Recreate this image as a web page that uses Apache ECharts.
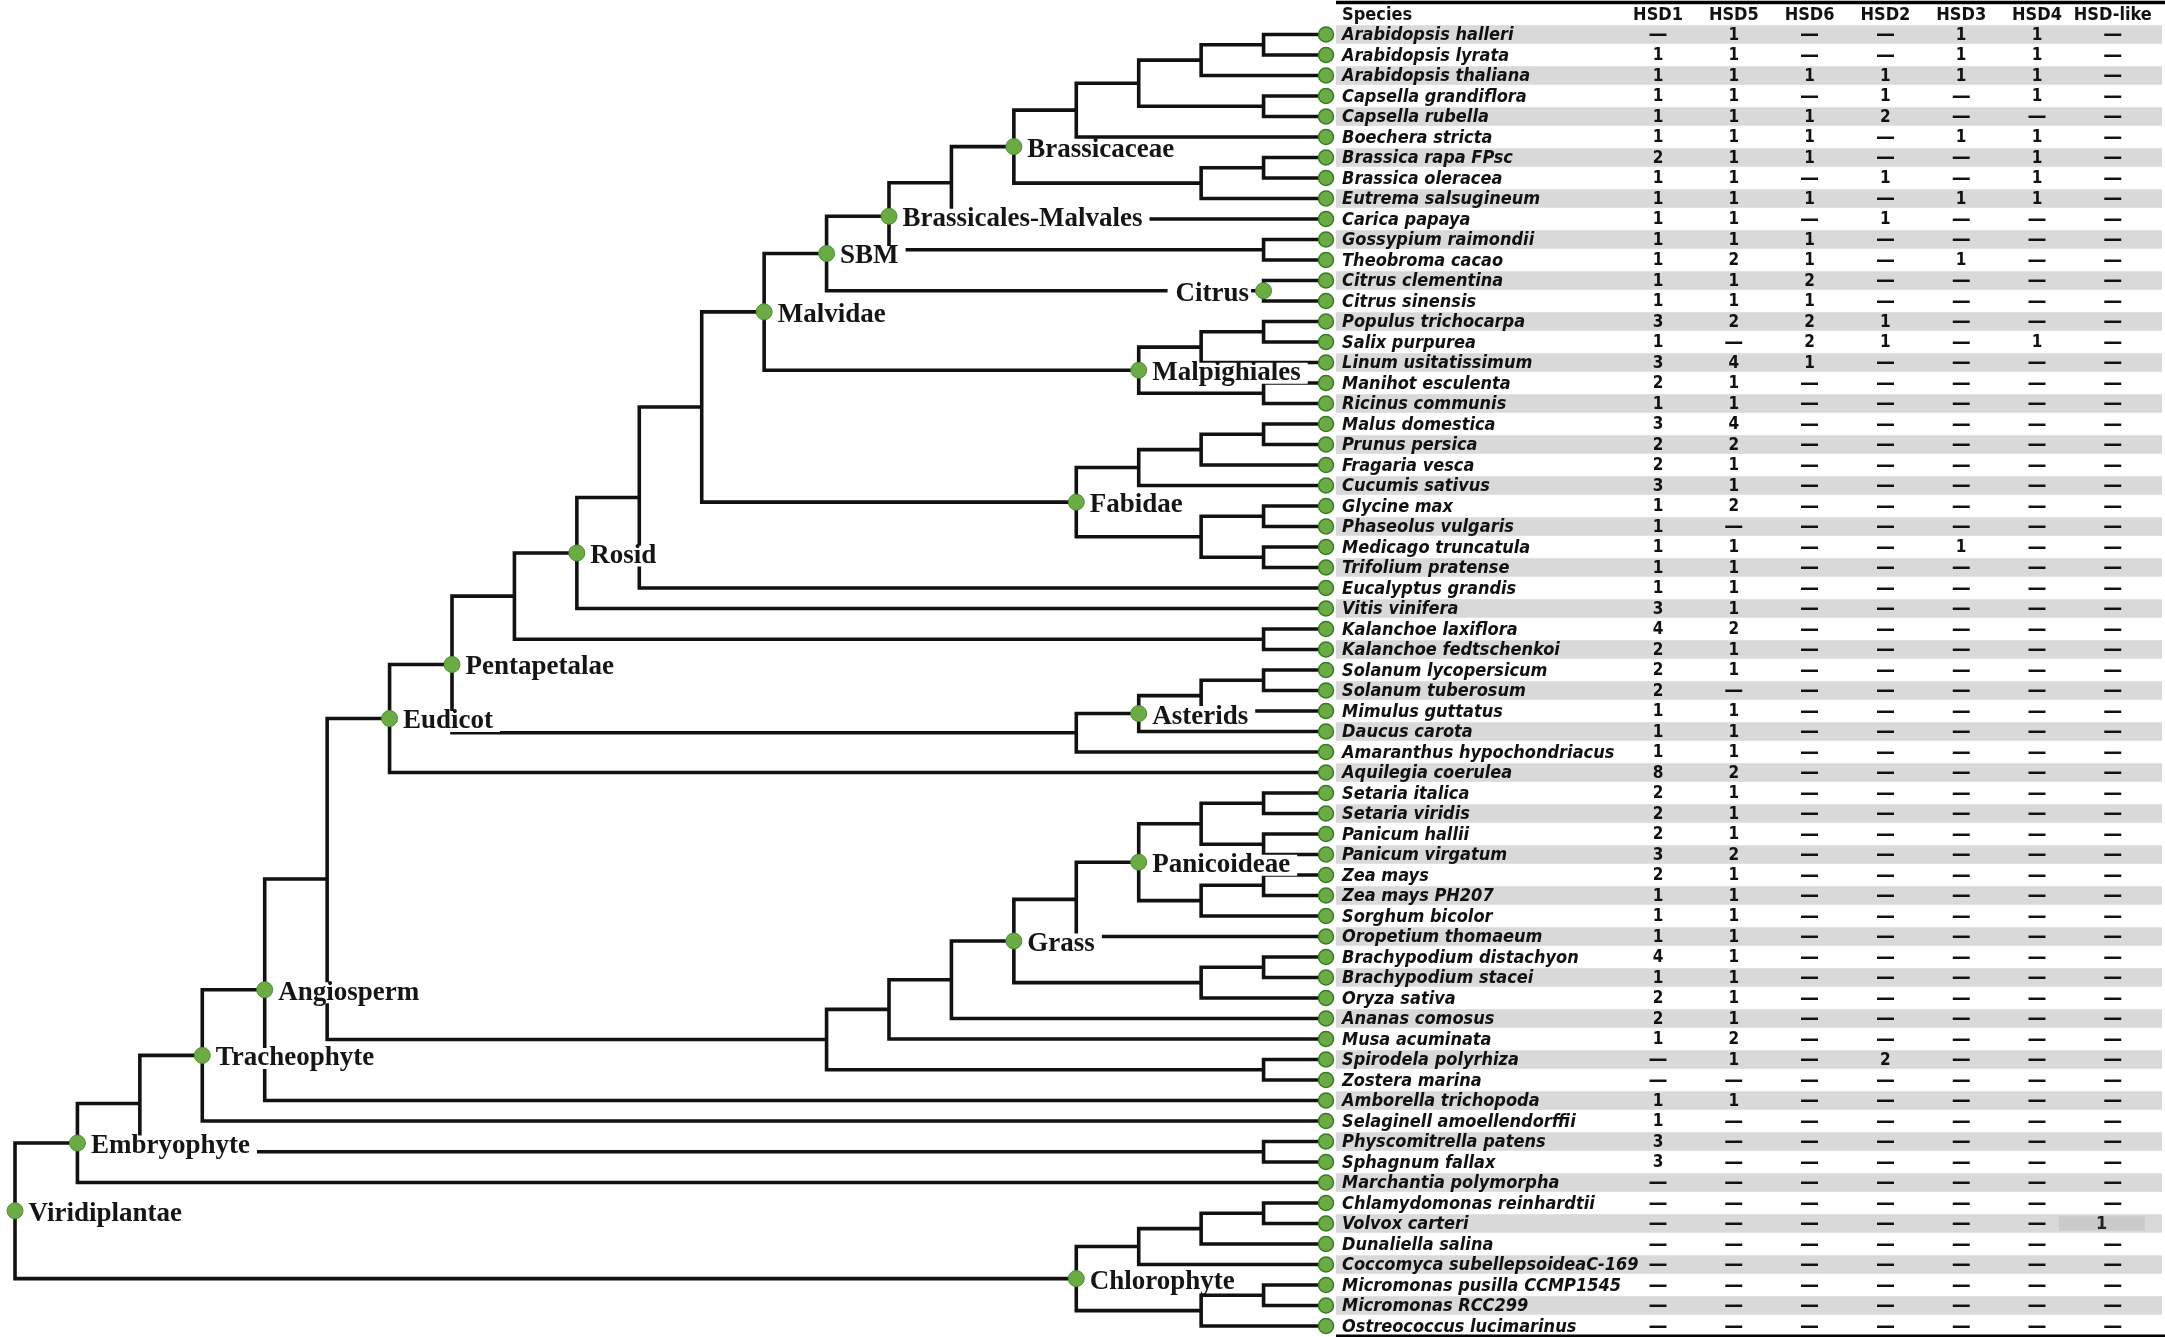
<!DOCTYPE html>
<html>
<head>
<meta charset="utf-8">
<script src="https://cdn.jsdelivr.net/npm/echarts@6/dist/echarts.min.js"></script>
<style>
  html, body { margin: 0; padding: 0; background: #fff; }
  #chart { width: 2165px; height: 1337px; }
</style>
</head>
<body>
<div id="chart"></div>
<script>
const _ = null; // shown as a dash in the table

const species = [
  'Arabidopsis halleri', 'Arabidopsis lyrata', 'Arabidopsis thaliana', 'Capsella grandiflora',
  'Capsella rubella', 'Boechera stricta', 'Brassica rapa FPsc', 'Brassica oleracea',
  'Eutrema salsugineum', 'Carica papaya', 'Gossypium raimondii', 'Theobroma cacao',
  'Citrus clementina', 'Citrus sinensis', 'Populus trichocarpa', 'Salix purpurea',
  'Linum usitatissimum', 'Manihot esculenta', 'Ricinus communis', 'Malus domestica',
  'Prunus persica', 'Fragaria vesca', 'Cucumis sativus', 'Glycine max',
  'Phaseolus vulgaris', 'Medicago truncatula', 'Trifolium pratense', 'Eucalyptus grandis',
  'Vitis vinifera', 'Kalanchoe laxiflora', 'Kalanchoe fedtschenkoi', 'Solanum lycopersicum',
  'Solanum tuberosum', 'Mimulus guttatus', 'Daucus carota', 'Amaranthus hypochondriacus',
  'Aquilegia coerulea', 'Setaria italica', 'Setaria viridis', 'Panicum hallii',
  'Panicum virgatum', 'Zea mays', 'Zea mays PH207', 'Sorghum bicolor',
  'Oropetium thomaeum', 'Brachypodium distachyon', 'Brachypodium stacei', 'Oryza sativa',
  'Ananas comosus', 'Musa acuminata', 'Spirodela polyrhiza', 'Zostera marina',
  'Amborella trichopoda', 'Selaginell amoellendorffii', 'Physcomitrella patens', 'Sphagnum fallax',
  'Marchantia polymorpha', 'Chlamydomonas reinhardtii', 'Volvox carteri', 'Dunaliella salina',
  'Coccomyca subellepsoideaC-169', 'Micromonas pusilla CCMP1545', 'Micromonas RCC299', 'Ostreococcus lucimarinus'
];

const columns = ['HSD1', 'HSD5', 'HSD6', 'HSD2', 'HSD3', 'HSD4', 'HSD-like'];

const hsd1 = [
  _, 1, 1, 1, 1, 1, 2, 1, 1, 1,
  1, 1, 1, 1, 3, 1, 3, 2, 1, 3,
  2, 2, 3, 1, 1, 1, 1, 1, 3, 4,
  2, 2, 2, 1, 1, 1, 8, 2, 2, 2,
  3, 2, 1, 1, 1, 4, 1, 2, 2, 1,
  _, _, 1, 1, 3, 3, _, _, _, _,
  _, _, _, _
];
const hsd5 = [
  1, 1, 1, 1, 1, 1, 1, 1, 1, 1,
  1, 2, 1, 1, 2, _, 4, 1, 1, 4,
  2, 1, 1, 2, _, 1, 1, 1, 1, 2,
  1, 1, _, 1, 1, 1, 2, 1, 1, 1,
  2, 1, 1, 1, 1, 1, 1, 1, 1, 2,
  1, _, 1, _, _, _, _, _, _, _,
  _, _, _, _
];
const hsd6 = [
  _, _, 1, _, 1, 1, 1, _, 1, _,
  1, 1, 2, 1, 2, 2, 1, _, _, _,
  _, _, _, _, _, _, _, _, _, _,
  _, _, _, _, _, _, _, _, _, _,
  _, _, _, _, _, _, _, _, _, _,
  _, _, _, _, _, _, _, _, _, _,
  _, _, _, _
];
const hsd2 = [
  _, _, 1, 1, 2, _, _, 1, _, 1,
  _, _, _, _, 1, 1, _, _, _, _,
  _, _, _, _, _, _, _, _, _, _,
  _, _, _, _, _, _, _, _, _, _,
  _, _, _, _, _, _, _, _, _, _,
  2, _, _, _, _, _, _, _, _, _,
  _, _, _, _
];
const hsd3 = [
  1, 1, 1, _, _, 1, _, _, 1, _,
  _, 1, _, _, _, _, _, _, _, _,
  _, _, _, _, _, 1, _, _, _, _,
  _, _, _, _, _, _, _, _, _, _,
  _, _, _, _, _, _, _, _, _, _,
  _, _, _, _, _, _, _, _, _, _,
  _, _, _, _
];
const hsd4 = [
  1, 1, 1, 1, _, 1, 1, 1, 1, _,
  _, _, _, _, _, 1, _, _, _, _,
  _, _, _, _, _, _, _, _, _, _,
  _, _, _, _, _, _, _, _, _, _,
  _, _, _, _, _, _, _, _, _, _,
  _, _, _, _, _, _, _, _, _, _,
  _, _, _, _
];
const hsdLike = [
  _, _, _, _, _, _, _, _, _, _,
  _, _, _, _, _, _, _, _, _, _,
  _, _, _, _, _, _, _, _, _, _,
  _, _, _, _, _, _, _, _, _, _,
  _, _, _, _, _, _, _, _, _, _,
  _, _, _, _, _, _, _, _, 1, _,
  _, _, _, _
];
const highlighted = [[58, 6]]; // [row, column] cells with a grey box

// tree: [rank, clade label, child, child]; a number is a row of the table
const tree =
  [21, 'Viridiplantae',
    [20, 'Embryophyte',
      [19, '',
        [18, 'Tracheophyte',
          [17, 'Angiosperm',
            [16, '',
              [15, 'Eudicot',
                [14, 'Pentapetalae',
                  [13, '',
                    [12, 'Rosid',
                      [11, '',
                        [10, '',
                          [9, 'Malvidae',
                            [8, 'SBM',
                              [7, 'Brassicales-Malvales',
                                [6, '',
                                  [5, 'Brassicaceae',
                                    [4, '', [3, '', [2, '', [1, '', 0, 1], 2], [1, '', 3, 4]], 5],
                                    [2, '', [1, '', 6, 7], 8]],
                                  9],
                                [1, '', 10, 11]],
                              [1, 'Citrus', 12, 13]],
                            [3, 'Malpighiales', [2, '', [1, '', 14, 15], 16], [1, '', 17, 18]]],
                          [4, 'Fabidae',
                            [3, '', [2, '', [1, '', 19, 20], 21], 22],
                            [2, '', [1, '', 23, 24], [1, '', 25, 26]]]],
                        27],
                      28],
                    [1, '', 29, 30]],
                  [4, '', [3, 'Asterids', [2, '', [1, '', 31, 32], 33], 34], 35]],
                36],
              [8, '',
                [7, '',
                  [6, '',
                    [5, 'Grass',
                      [4, '',
                        [3, 'Panicoideae',
                          [2, '', [1, '', 37, 38], [1, '', 39, 40]],
                          [2, '', [1, '', 41, 42], 43]],
                        44],
                      [2, '', [1, '', 45, 46], 47]],
                    48],
                  49],
                [1, '', 50, 51]]],
            52],
          53],
        [1, '', 54, 55]],
      56],
    [4, 'Chlorophyte',
      [3, '', [2, '', [1, '', 57, 58], 59], 60],
      [2, '', [1, '', 61, 62], 63]]];

const leftLabels = ['Citrus'];

// ---- layout of the cladogram ----
const branches = [];
const clades = [];
function place(node) {
  if (typeof node === 'number') return { x: 0, y: node };
  const [rank, label, a, b] = node;
  const pa = place(a);
  const pb = place(b);
  const y = (pa.y + pb.y) / 2;
  branches.push([pa.x, pa.y, rank, pa.y, rank, pb.y, pb.x, pb.y]);
  if (label) clades.push({ name: label, value: [rank, y] });
  return { x: rank, y: y };
}
place(tree);

const sansFamily = '"Liberation Sans Narrow", "DejaVu Sans Condensed", "Liberation Sans", sans-serif';
const leafFont = 'italic bold 18px ' + sansFamily;
const cellFont = 'bold 17px ' + sansFamily;
const dashFont = 'bold 19px "DejaVu Sans", sans-serif';

// table cells
const colData = [hsd1, hsd5, hsd6, hsd2, hsd3, hsd4, hsdLike];
const cells = [];
colData.forEach((col, c) => {
  col.forEach((v, r) => {
    const hl = highlighted.some(h => h[0] === r && h[1] === c);
    cells.push({ x: c + 0.5, y: r, text: v === null ? '—' : String(v), hl: hl });
  });
});

const headerRow = -0.95;
const tableMinX = -3.75;
const tableMaxX = 7.15;
const nameX = -3.67;

function textEl(pt, text, font, align, fill) {
  return {
    type: 'text',
    x: pt[0],
    y: pt[1],
    style: {
      text: text,
      font: font,
      fill: fill || '#111',
      align: align,
      verticalAlign: 'middle'
    }
  };
}

const chart = echarts.init(document.getElementById('chart'), null, { renderer: 'canvas' });

chart.setOption({
  animation: false,
  backgroundColor: '#fff',
  grid: [
    { left: 15, width: 1311, top: 24.25, height: 1312 },
    { left: 1336, width: 826, top: 24.25, height: 1312 }
  ],
  xAxis: [
    { gridIndex: 0, type: 'value', min: 0, max: 21, inverse: true, show: false },
    { gridIndex: 1, type: 'value', min: tableMinX, max: tableMaxX, show: false }
  ],
  yAxis: [
    { gridIndex: 0, type: 'value', min: -0.5, max: 63.5, inverse: true, show: false },
    { gridIndex: 1, type: 'value', min: -0.5, max: 63.5, inverse: true, show: false }
  ],
  series: [
    {
      // alternating row shading
      type: 'custom',
      xAxisIndex: 1,
      yAxisIndex: 1,
      z: 1,
      data: species.map((s, i) => [0, i]).filter(d => d[1] % 2 === 0),
      renderItem: function (params, api) {
        const r = api.value(1);
        const p0 = api.coord([tableMinX, r - 0.5]);
        const p1 = api.coord([tableMaxX, r + 0.5]);
        return {
          type: 'rect',
          shape: { x: p0[0], y: p0[1] + 1, width: p1[0] - p0[0], height: p1[1] - p0[1] - 2 },
          style: { fill: '#d9d9d9' }
        };
      }
    },
    {
      // header and the two rules
      type: 'custom',
      xAxisIndex: 1,
      yAxisIndex: 1,
      z: 2,
      data: [[0, headerRow]],
      renderItem: function (params, api) {
        const kids = [];
        const font = 'bold 18px ' + sansFamily;
        kids.push(textEl(api.coord([nameX, headerRow]), 'Species', font, 'left'));
        columns.forEach((c, i) => {
          kids.push(textEl(api.coord([i + 0.5, headerRow]), c, font, 'center'));
        });
        [-1.56, 63.5].forEach(yv => {
          const a = api.coord([tableMinX, yv]);
          const b = api.coord([tableMaxX, yv]);
          kids.push({
            type: 'line',
            shape: { x1: a[0], y1: a[1], x2: b[0] + 3, y2: b[1] },
            style: { stroke: '#000', lineWidth: 3.5 }
          });
        });
        return { type: 'group', children: kids };
      }
    },
    {
      // species names
      type: 'custom',
      xAxisIndex: 1,
      yAxisIndex: 1,
      z: 3,
      data: species.map((s, i) => [nameX, i]),
      renderItem: function (params, api) {
        const pt = api.coord([api.value(0), api.value(1)]);
        return textEl([pt[0], pt[1] + 1], species[params.dataIndex], leafFont, 'left');
      }
    },
    {
      // gene counts
      type: 'custom',
      xAxisIndex: 1,
      yAxisIndex: 1,
      z: 3,
      data: cells.map(c => [c.x, c.y]),
      renderItem: function (params, api) {
        const cell = cells[params.dataIndex];
        const pt = api.coord([api.value(0), api.value(1)]);
        const h = api.size([1, 1]);
        const kids = [];
        const font = cell.text === '—' ? dashFont : cellFont;
        if (cell.hl) {
          kids.push({
            type: 'rect',
            shape: { x: pt[0] - 54, y: pt[1] - h[1] / 2 + 3, width: 86, height: h[1] - 6 },
            style: { fill: '#cbcbcb' }
          });
          kids.push(textEl([pt[0] - 11, pt[1] + 1], cell.text, 'bold 18px ' + sansFamily, 'center', '#222'));
        } else {
          kids.push(textEl([pt[0], pt[1] + 1], cell.text, font, 'center'));
        }
        return { type: 'group', children: kids };
      }
    },
    {
      // branches of the tree
      type: 'custom',
      xAxisIndex: 0,
      yAxisIndex: 0,
      z: 2,
      data: branches,
      renderItem: function (params, api) {
        const pts = [0, 1, 2, 3].map(k => api.coord([api.value(2 * k), api.value(2 * k + 1)]));
        return {
          type: 'polyline',
          shape: { points: pts },
          style: { stroke: '#111', lineWidth: 3.6, fill: null, lineJoin: 'miter' }
        };
      }
    },
    {
      // tips
      type: 'scatter',
      xAxisIndex: 0,
      yAxisIndex: 0,
      z: 5,
      symbol: 'circle',
      symbolSize: 15,
      itemStyle: { color: '#6aab46', borderColor: '#3a7a22', borderWidth: 1.5, opacity: 1 },
      data: species.map((s, i) => [0, i]),
      silent: true
    },
    {
      // labelled clades
      type: 'scatter',
      xAxisIndex: 0,
      yAxisIndex: 0,
      z: 4,
      symbol: 'circle',
      symbolSize: 16,
      itemStyle: { color: '#6aab46', borderColor: '#4f8f33', borderWidth: 1, opacity: 1 },
      label: {
        show: true,
        position: 'right',
        distance: 3,
        offset: [0, 3],
        formatter: '{b}',
        color: '#151515',
        fontFamily: '"Liberation Serif", "DejaVu Serif", serif',
        fontWeight: 'bold',
        fontSize: 27,
        lineHeight: 21,
        backgroundColor: '#fff',
        padding: [0, 7, 0, 2]
      },
      data: clades.map(c => leftLabels.includes(c.name)
        ? Object.assign({}, c, { label: { position: 'left', padding: [0, 2, 0, 8], distance: 4 } })
        : c),
      silent: true
    }
  ]
});
</script>
</body>
</html>
